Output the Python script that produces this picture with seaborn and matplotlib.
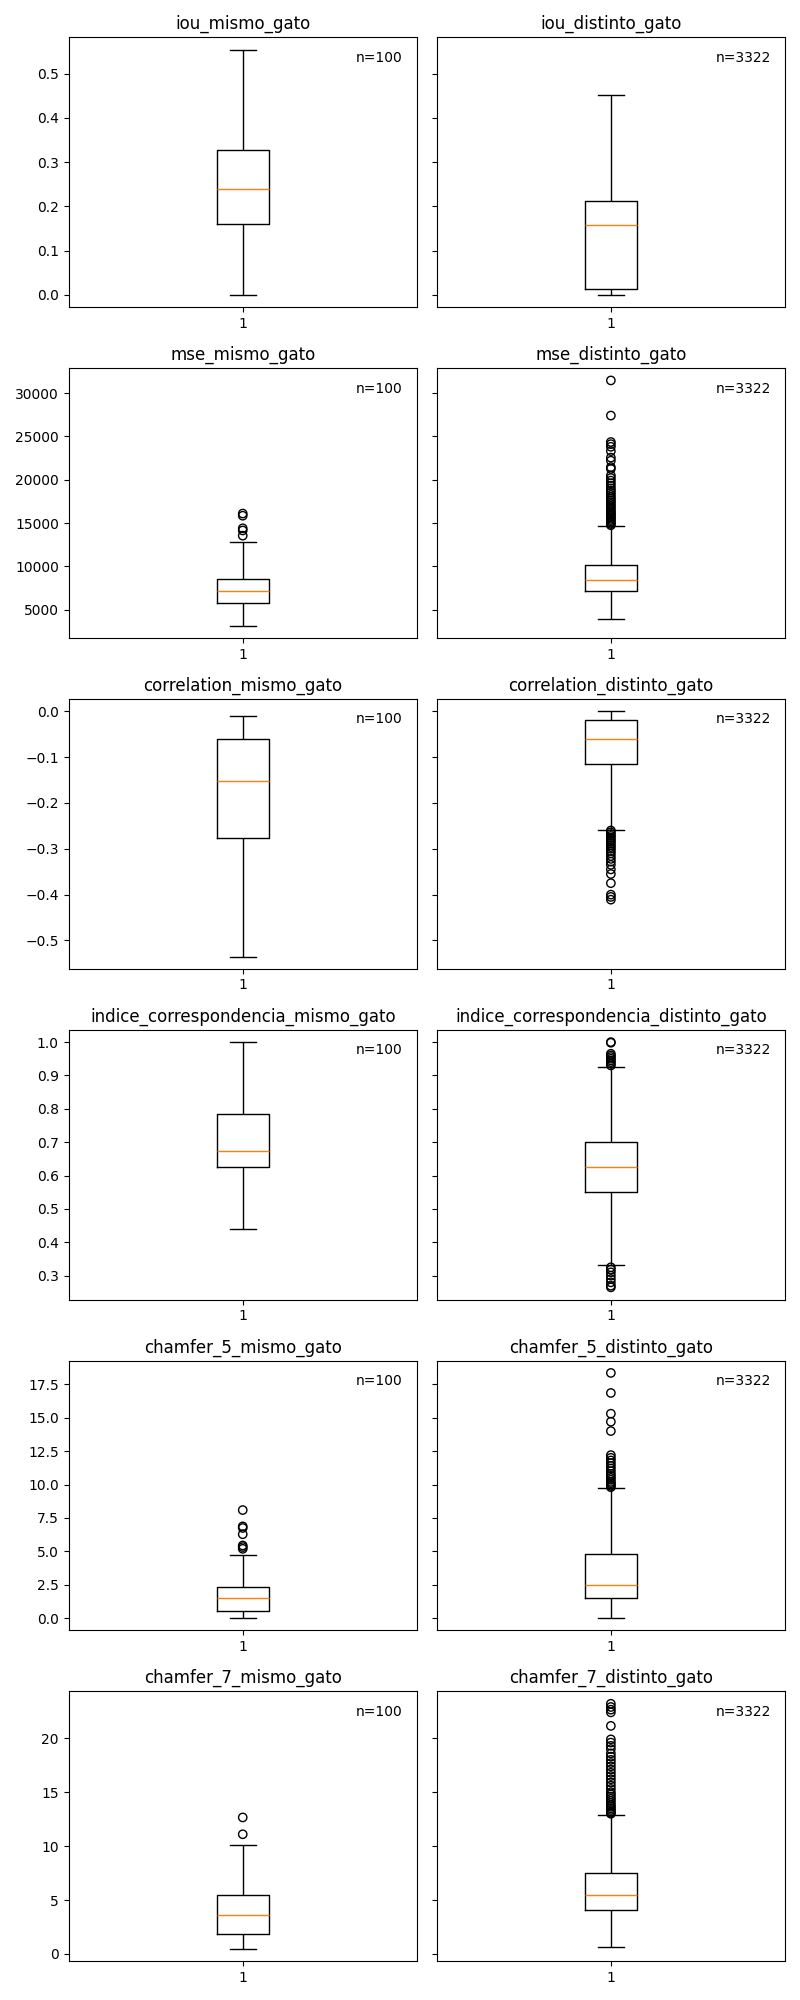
"""
Boxplots of the similarity metrics, same cat vs different cat.
"""

import numpy as np
import pandas as pd
import matplotlib.pyplot as plt
import seaborn as sns

metricas = ["iou", "mse", "correlation", "indice_correspondencia", "chamfer_5", "chamfer_7"]
grupos = ["mismo_gato", "distinto_gato"]
n_muestras = [100, 3322]

# five-number summary per panel: whisker low, Q1, median, Q3, whisker high
iou_mismo = [0.0, 0.160, 0.240, 0.328, 0.554]
iou_distinto = [0.0, 0.014, 0.157, 0.211, 0.451]
mse_mismo = [3170, 5800, 7210, 8540, 12770]
mse_distinto = [3950, 7210, 8430, 10110, 14680]
corr_mismo = [-0.535, -0.277, -0.152, -0.060, -0.011]
corr_distinto = [-0.258, -0.115, -0.060, -0.019, 0.0]
indice_mismo = [0.440, 0.625, 0.675, 0.785, 1.0]
indice_distinto = [0.333, 0.550, 0.625, 0.702, 0.924]
chamfer5_mismo = [0.0, 0.52, 1.48, 2.30, 4.75]
chamfer5_distinto = [0.0, 1.48, 2.52, 4.82, 9.74]
chamfer7_mismo = [0.46, 1.87, 3.58, 5.50, 10.09]
chamfer7_distinto = [0.64, 4.04, 5.50, 7.49, 12.90]

# outliers
iou_mismo_out = []
iou_distinto_out = []
mse_mismo_out = [16100, 15850, 14400, 14150, 13550]
mse_distinto_out = [14750, 14900, 15050, 15200, 15350, 15500, 15650, 15800, 15950,
                    16100, 16250, 16400, 16600, 16800, 17000, 17200, 17400, 17600,
                    17800, 18000, 18250, 18500, 18750, 19000, 19300, 19600, 19900,
                    20200, 20500, 21250, 21450, 22200, 22550, 23300, 23800, 24100,
                    24350, 27400, 31450]
corr_mismo_out = []
corr_distinto_out = [-0.260, -0.264, -0.268, -0.272, -0.276, -0.280, -0.284, -0.288,
                     -0.292, -0.296, -0.300, -0.305, -0.310, -0.316, -0.322, -0.328,
                     -0.335, -0.345, -0.355, -0.375, -0.400, -0.405, -0.411]
indice_mismo_out = []
indice_distinto_out = [1.0, 0.998, 0.965, 0.960, 0.955, 0.950, 0.945, 0.940, 0.935,
                       0.930, 0.325, 0.318, 0.310, 0.300, 0.290, 0.280, 0.270, 0.265]
chamfer5_mismo_out = [8.09, 6.87, 6.75, 6.28, 5.44, 5.32, 5.19]
chamfer5_distinto_out = [9.8, 9.9, 10.0, 10.1, 10.2, 10.35, 10.5, 10.65, 10.8, 11.0,
                         11.2, 11.4, 11.6, 11.8, 12.0, 12.2, 14.0, 14.7, 15.3, 16.85, 18.35]
chamfer7_mismo_out = [12.66, 11.10]
chamfer7_distinto_out = [13.0, 13.1, 13.2, 13.35, 13.5, 13.65, 13.8, 14.0, 14.2, 14.4,
                         14.6, 14.8, 15.0, 15.3, 15.6, 15.9, 16.2, 16.5, 16.8, 17.1,
                         17.4, 17.7, 18.0, 18.3, 18.6, 19.0, 19.3, 19.6, 19.9, 21.15,
                         22.4, 22.65, 22.9, 23.2]

resumen = [
    [(iou_mismo, iou_mismo_out), (iou_distinto, iou_distinto_out)],
    [(mse_mismo, mse_mismo_out), (mse_distinto, mse_distinto_out)],
    [(corr_mismo, corr_mismo_out), (corr_distinto, corr_distinto_out)],
    [(indice_mismo, indice_mismo_out), (indice_distinto, indice_distinto_out)],
    [(chamfer5_mismo, chamfer5_mismo_out), (chamfer5_distinto, chamfer5_distinto_out)],
    [(chamfer7_mismo, chamfer7_mismo_out), (chamfer7_distinto, chamfer7_distinto_out)],
]

fig, axes = plt.subplots(6, 2, figsize=(8, 20), sharey="row")

for i, metrica in enumerate(metricas):
    for j, grupo in enumerate(grupos):
        ax = axes[i, j]
        caja, outliers = resumen[i][j]
        # whiskers drawn to min/max of the five-number summary
        sns.boxplot(x=["1"] * len(caja), y=caja, ax=ax, whis=(0, 100), width=0.15,
                    fill=False, color="black", linewidth=1,
                    medianprops={"color": "C1"})
        if outliers:
            sns.stripplot(x=["1"] * len(outliers), y=outliers, ax=ax, jitter=False,
                          size=6, facecolor="none", edgecolor="black", linewidth=1)
        ax.set_title(f"{metrica}_{grupo}")
        ax.text(0.96, 0.95, f"n={n_muestras[j]}", transform=ax.transAxes,
                ha="right", va="top", fontsize=10)

plt.tight_layout()
plt.savefig("out.png", dpi=100)
